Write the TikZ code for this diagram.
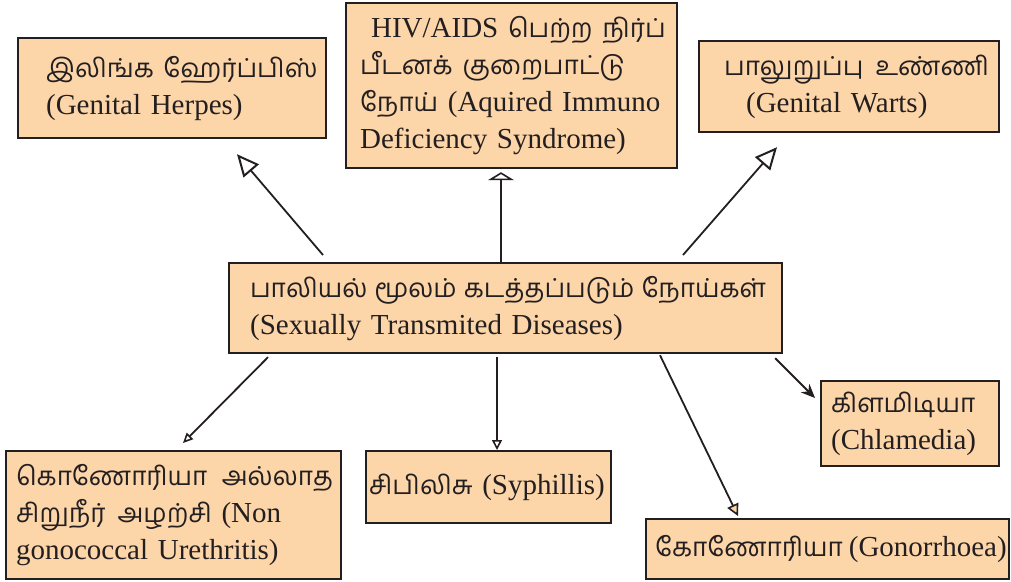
\documentclass[tikz,border=0pt]{standalone}
\usepackage{fontspec}
\setmainfont{Liberation Serif}
\newfontfamily\ta[Script=Tamil,Scale=0.9]{Hind Madurai}
\usetikzlibrary{arrows.meta,calc}
\definecolor{boxfill}{HTML}{FCD5A9}
\definecolor{ink}{HTML}{231F20}
\begin{document}
\begin{tikzpicture}[x=1pt,y=-1pt,
  box/.style={draw=ink, line width=2.2pt, fill=boxfill, anchor=north west, align=left,
    inner ysep=0pt, font=\fontsize{29}{37}\selectfont, text=ink},
  conn/.style={draw=ink, line width=1.8pt}]
\useasboundingbox (0,0) rectangle (1011,581);

\node[box, text width=252pt, inner xsep=28pt, minimum height=100pt] (herpes) at (17,37)
  {\mbox{\ta இலிங்க ஹேர்ப்பிஸ்}\\(Genital Herpes)};
\node[box, text width=303pt, inner xsep=14pt, minimum height=165pt] (hiv) at (345,2)
  {\mbox{\hspace{11pt}HIV/AIDS {\ta பெற்ற\hspace{10pt}நிர்ப்}}\\{\ta பீடனக்\hspace{10pt}குறைபாட்டு}\\\mbox{{\ta நோய்} (Aquired Immuno}\\Deficiency Syndrome)};
\node[box, text width=256pt, inner xsep=22pt, minimum height=91pt] (warts) at (698,40)
  {\mbox{\hspace{3pt}{\ta பாலுறுப்பு}\hspace{12pt}{\ta உண்ணி}}\\\hspace{25pt}(Genital Warts)};
\node[box, text width=511pt, inner xsep=21pt, minimum height=90pt] (center) at (228,262)
  {\makebox[516pt][s]{\ta பாலியல்\hfill மூலம்\hfill கடத்தப்படும்\hfill நோய்கள்}\\(Sexually Transmited Diseases)};
\node[box, text width=321pt, inner xsep=7pt, minimum height=128pt] (ngu) at (5,450)
  {\makebox[320pt][s]{\hspace{3pt}\ta கொணோரியா\hfill அல்லாத}\\\hspace{3pt}{\ta சிறுநீர்\hspace{12pt}அழற்சி} (Non\\\hspace{3pt}gonococcal Urethritis)};
\node[box, text width=239pt, inner xsep=3pt, minimum height=72pt] (syph) at (365,450)
  {\mbox{{\ta சிபிலிசு} (Syphillis)}};
\node[box, text width=158pt, inner xsep=10pt, minimum height=85pt] (chla) at (820,380)
  {{\ta கிளமிடியா}\\(Chlamedia)};
\node[box, text width=349pt, inner xsep=7pt, minimum height=60pt] (gono) at (645,518)
  {\mbox{\hspace{2pt}{\ta கோணோரியா}\hspace{6pt}(Gonorrhoea)}\\[-10pt]};

\draw[conn, -{Triangle[open, length=22pt, width=20pt, line width=2pt]}]
  ($(center.north west)+(95,-7)$) -- ($(herpes.south west)+(220,15)$);
\draw[conn, -{Triangle[open, length=8pt, width=26pt, line width=1.6pt]}]
  ($(center.north west)+(273,0)$) -- ($(hiv.south west)+(156,3)$);
\draw[conn, -{Triangle[open, length=22pt, width=20pt, line width=2pt]}]
  ($(center.north west)+(455,-7)$) -- ($(warts.south west)+(79,14)$);
\draw[conn, -{Triangle[open, length=10pt, width=9pt, line width=1.6pt]}]
  ($(center.south west)+(40,3)$) -- ($(ngu.north west)+(178,-7)$);
\draw[conn, -{Triangle[open, length=10pt, width=10pt, line width=1.6pt]}]
  ($(center.south west)+(269,3)$) -- ($(syph.north west)+(132,0)$);
\draw[conn, -{Triangle[fill=boxfill, length=12pt, width=12pt, line width=1.6pt]}]
  ($(center.south west)+(432,1)$) -- ($(gono.north west)+(93,-2)$);
\draw[conn, -{Stealth[length=14pt, width=12pt]}]
  ($(center.south east)+(-8,4)$) -- ($(chla.north west)+(-5,18)$);
\end{tikzpicture}
\end{document}
